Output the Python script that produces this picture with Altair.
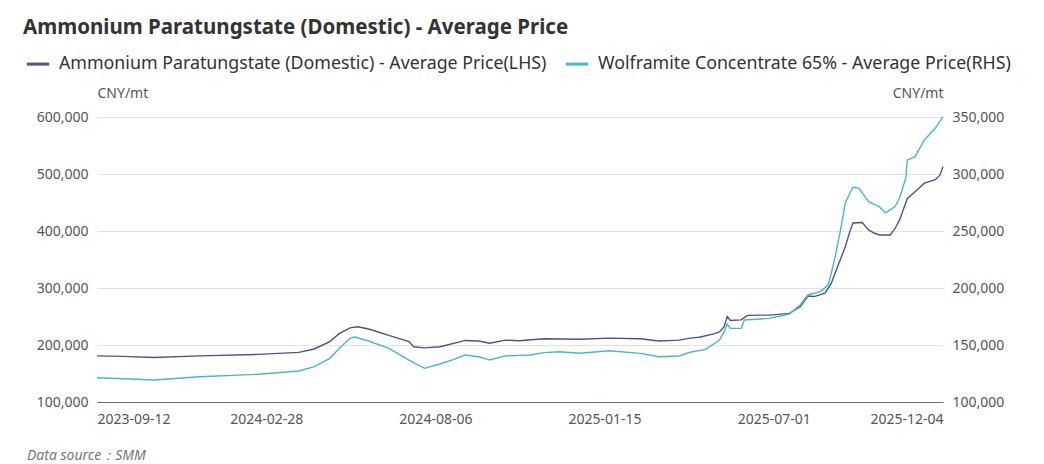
import altair as alt
import pandas as pd

FONT = "Noto Sans"

tick_labels = ["2023-09-12", "2024-02-28", "2024-08-06", "2025-01-15", "2025-07-01", "2025-12-04"]
tick_step = 109  # trading days between labelled dates
last_index = 545

s1 = "Ammonium Paratungstate (Domestic) - Average Price(LHS)"
s2 = "Wolframite Concentrate 65% - Average Price(RHS)"

apt_idx = [0, 17, 37, 66, 104, 130, 140, 150, 156, 163, 168, 175, 188, 201, 204, 211,
           221, 233, 237, 246, 253, 263, 272, 288, 311, 330, 350, 362, 375, 382, 388,
           398, 401, 404, 406, 408, 415, 419, 433, 446, 453, 458, 462, 469, 473, 477,
           482, 485, 487, 493, 497, 501, 504, 511, 514, 517, 522, 527, 533, 540, 543, 545]
apt_val = [181000, 180000, 178000, 181000, 183500, 187000, 193000, 206000, 220000, 230000,
           232000, 228000, 217000, 206000, 197000, 195000, 197000, 205000, 208000, 207000,
           203000, 208500, 207500, 211000, 210000, 212000, 211000, 207000, 208500, 212000,
           213500, 220000, 223000, 232000, 250000, 243000, 244000, 252000, 252500, 255500,
           267000, 286000, 285000, 291000, 308000, 337000, 372000, 399000, 414000, 415000,
           402000, 396000, 393000, 393000, 404000, 419000, 457000, 469000, 484000, 490000,
           498000, 513000]

wolf_idx = [0, 37, 66, 104, 130, 140, 150, 156, 163, 166, 175, 188, 201, 211, 221, 230,
            237, 246, 253, 263, 279, 288, 298, 311, 330, 350, 362, 375, 382, 392, 398,
            401, 404, 406, 408, 415, 417, 433, 446, 453, 458, 466, 471, 473, 476, 479,
            482, 485, 487, 491, 497, 504, 508, 514, 517, 521, 522, 527, 533, 540, 545]
wolf_val = [121300, 119300, 122200, 124300, 127200, 131000, 138300, 147000, 155900, 157000,
            153500, 147000, 136800, 129500, 133300, 137400, 141200, 139700, 136800, 140400,
            141200, 143300, 144100, 142700, 145000, 142700, 139700, 140400, 143600, 146200,
            151500, 154400, 161700, 168400, 164600, 164600, 171900, 173400, 177200, 185100,
            193900, 196800, 202600, 212900, 230400, 250900, 274300, 283100, 288300, 287400,
            275700, 271300, 266000, 271300, 278700, 296200, 312300, 315200, 329800, 340100,
            350300]

left_ticks = [100000, 200000, 300000, 400000, 500000, 600000]
right_ticks = [100000, 150000, 200000, 250000, 300000, 350000]

df1 = pd.DataFrame({"idx": apt_idx, "price": apt_val, "series": s1})
df2 = pd.DataFrame({"idx": wolf_idx, "price": wolf_val, "series": s2})
src = pd.DataFrame({"t": ["Data source：SMM"]})

label_expr = "[" + ",".join(f"'{t}'" for t in tick_labels) + f"][round(datum.value/{tick_step})]"

color = alt.Color(
    "series:N",
    scale=alt.Scale(domain=[s1, s2], range=["#4e5488", "#4db6c6"]),
    legend=alt.Legend(
        orient="none", legendX=-72, legendY=-66, direction="horizontal", title=None,
        symbolType="stroke", symbolStrokeWidth=3, symbolSize=500, labelFontSize=17.8,
        labelFont=FONT, labelColor="#333333", labelLimit=700, columnPadding=12,
        labelOffset=8, columns=2,
    ),
)

x = alt.X(
    "idx:Q",
    scale=alt.Scale(domain=[0, last_index], nice=False, zero=False),
    axis=alt.Axis(
        values=[i * tick_step for i in range(len(tick_labels))], labelExpr=label_expr,
        title=None, grid=False, ticks=False, domainColor="#6e7079", labelFlush=True,
        labelPadding=10, labelFontSize=14, labelFont=FONT, labelColor="#555555",
    ),
)

common_axis = dict(
    format=",.0f", title="CNY/mt", titleAngle=0, titleX=0, titleY=-20,
    titleBaseline="alphabetic", titleFontSize=14, titleFontWeight="normal",
    titleFont=FONT, titleColor="#555555", labelFontSize=14, labelFont=FONT,
    labelColor="#555555", ticks=False, domain=False, labelPadding=9,
)

left = alt.Chart(df1).mark_line(strokeWidth=1.4).encode(
    x=x,
    y=alt.Y("price:Q", scale=alt.Scale(domain=[100000, 600000], nice=False, zero=False),
            axis=alt.Axis(values=left_ticks, orient="left", titleAlign="left", grid=True,
                          gridColor="#e3e3e3", **common_axis)),
    color=color,
)

right = alt.Chart(df2).mark_line(strokeWidth=1.4).encode(
    x=x,
    y=alt.Y("price:Q", scale=alt.Scale(domain=[100000, 350000], nice=False, zero=False),
            axis=alt.Axis(values=right_ticks, orient="right", titleAlign="right", grid=False,
                          **common_axis)),
    color=color,
)

note = alt.Chart(src).mark_text(
    align="left", baseline="alphabetic", fontStyle="italic", fontSize=14, font=FONT,
    color="#777777",
).encode(x=alt.value(-70), y=alt.value(343), text="t:N")

chart = alt.layer(left, right, note).resolve_scale(y="independent").properties(
    width=846, height=285,
    autosize=alt.AutoSizeParams(type="none"),
    padding={"left": 89, "top": 109, "right": 93, "bottom": 62},
    title=alt.TitleParams(
        "Ammonium Paratungstate (Domestic) - Average Price", anchor="start", dx=-2, dy=-9,
        fontSize=20.5, fontWeight="bold", font=FONT, color="#333333",
    ),
).configure_view(stroke=None)

chart.save("out.html", embed_options={"renderer": "svg", "actions": False})
